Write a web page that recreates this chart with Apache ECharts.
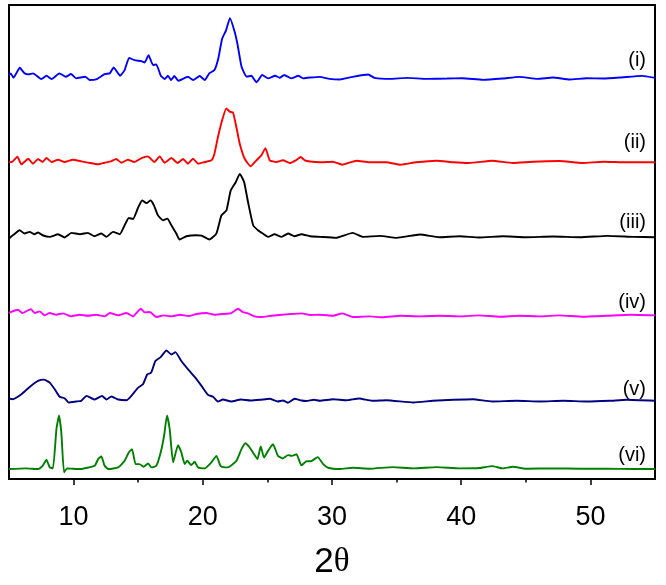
<!DOCTYPE html>
<html>
<head>
<meta charset="utf-8">
<script src="https://cdn.jsdelivr.net/npm/echarts@6/dist/echarts.min.js"></script>
<style>
  html, body { margin: 0; padding: 0; background: #fff; }
  #chart { width: 666px; height: 585px; }
</style>
</head>
<body>
<div id="chart"></div>
<script type="text/javascript">
  // 2theta tick values
  var majorTicks = [10, 20, 30, 40, 50];
  var minorTicks = [15, 25, 35, 45];
  var traceNames = ['(i)', '(ii)', '(iii)', '(iv)', '(v)', '(vi)'];
  var traceColors = ['#0000ff', '#ff0000', '#000000', '#ff00ff', '#000080', '#008000'];
  // vertical offset of each pattern (stacked plot)
  var traceOffsets = [404.5, 319, 245, 165, 79, 10];

  // [2theta, intensity above baseline]
  var trace1 = [
    [5.0, 2], [5.13, 3.7], [5.35, -0.7], [5.83, 9.3], [6.2, 3.7], [6.5, 2.7], [6.86, 3.7], [7.5, -2],
    [7.9, 1.3], [8.3, -2], [8.9, 3.7], [9.4, 0.3], [9.8, 3], [10.2, -1.3], [10.9, 0.3], [11.25, -3],
    [11.8, -2], [12.4, 3], [12.8, 3.7], [13.1, 9.7], [13.6, 1.3], [13.95, 7], [14.3, 19.3], [14.7, 17],
    [15.25, 16], [15.5, 14.7], [15.8, 22], [16.15, 12], [16.4, 12.7], [16.75, 1.3], [17.05, -2], [17.3, 1.3],
    [17.55, -3], [17.8, 1], [18.1, -3.7], [18.85, 0.3], [19.25, -3], [19.76, 1], [20.15, -3], [20.5, 3.7],
    [20.9, 7], [21.2, 18.7], [21.5, 38.7], [21.8, 47], [22.1, 59.3], [22.47, 45.3], [22.7, 32], [23.0, 10.3],
    [23.4, 0.3], [23.76, 1.3], [24.15, -5.3], [24.6, 2], [25.05, -1.3], [25.6, 1.3], [25.95, -0.7], [26.3, 2],
    [26.85, -1.3], [27.4, 1.3], [27.75, -1.3], [28.3, -0.5], [29.05, 0.2], [29.8, -1.8], [30.6, -2.5], [31.6, 0.2],
    [32.8, 2.5], [33.3, -0.8], [34.5, -1.8], [35.8, -0.8], [37.3, -1.8], [38.9, -1.5], [40.1, -1.2], [41.7, -2.8],
    [43.2, -1.5], [44.5, 0.2], [45.9, -1.8], [47.1, -0.5], [48.4, -2.5], [49.7, -1.2], [51.0, -1.5], [52.3, -0.5],
    [54.0, 1.2], [55.0, -0.8]
  ];
  var trace2 = [
    [5.0, 0], [5.2, 0], [5.65, 5.3], [5.95, -2.3], [6.5, 3.3], [6.85, -1.7], [7.25, 3], [7.6, 0],
    [7.9, 4], [8.3, 0], [8.8, 2.3], [9.3, 0], [9.95, 2.3], [10.6, 0.7], [11.25, -1], [11.9, -2.3],
    [12.4, -0.7], [12.9, 0.7], [13.3, 3], [13.7, -0.7], [14.2, 2.3], [14.7, 0], [15.25, 4], [15.75, 5.7],
    [16.25, 0], [16.66, 5.7], [17.05, -0.7], [17.57, 4], [18.05, -1], [18.47, 3], [18.85, -1.7], [19.24, 3.3],
    [19.65, -1.7], [20.15, 0], [20.67, 1.7], [20.9, 8.3], [21.17, 25], [21.49, 41.7], [21.82, 54], [22.08, 50.7],
    [22.34, 49.7], [22.6, 35], [22.86, 18.3], [23.24, 3.3], [23.7, -4.3], [24.15, 1.7], [24.53, 6.7], [24.85, 14],
    [25.18, 1.7], [25.7, 0], [26.2, 1.7], [26.73, -1], [27.2, 1.7], [27.58, 5], [27.9, 1.7], [28.3, 0.5],
    [29.05, -0.3], [30.05, 0.3], [30.8, -2.7], [31.9, 1.3], [32.9, -0.3], [34.2, -0.3], [35.3, -2.7], [36.5, -0.3],
    [38.1, 1.3], [39.4, -0.3], [40.6, -1], [42.4, 1.3], [44.0, -1], [45.5, 0.3], [47.6, 1], [49.4, -1],
    [51.0, 0.3], [52.8, -0.3], [55.0, -0.3]
  ];
  var trace3 = [
    [5.0, -3], [5.3, 0.3], [5.83, 5.3], [6.2, 2], [6.6, 3.7], [6.95, 1.3], [7.25, 3], [7.6, 0.3],
    [8.15, -1.3], [8.8, 1.3], [9.3, -2], [9.83, 2.7], [10.5, 1.3], [11.1, 2.7], [11.6, -0.7], [12.15, 2],
    [12.54, -1.3], [13.05, 3.7], [13.57, 1.3], [13.95, 10.3], [14.27, 17.7], [14.6, 16.7], [15.0, 28.3], [15.3, 35.3],
    [15.64, 32.7], [15.95, 35.3], [16.22, 30.3], [16.53, 20.3], [16.92, 15.3], [17.26, 17], [17.57, 10.3], [17.95, 2],
    [18.2, -4], [18.73, -0.7], [19.5, 0.3], [19.9, 0], [20.5, -4], [21.05, 2], [21.44, 20.3], [21.83, 25.3],
    [22.16, 45.3], [22.55, 53.7], [22.86, 62], [23.2, 53.7], [23.5, 33.7], [23.9, 10.3], [24.27, 5.3], [24.65, 2],
    [25.05, -1.3], [25.55, 1.3], [26.1, -1.3], [26.6, 2], [27.1, -0.7], [27.63, 1.3], [28.3, -0.7], [29.05, -1.3],
    [30.3, -2.3], [31.6, 2.7], [32.4, -1.3], [33.7, -0.3], [35.0, -2.3], [36.8, 1], [38.3, -1.7], [39.9, -0.7],
    [41.4, -2], [43.2, -0.7], [45.0, -1.7], [47.1, -1], [49.2, -1.7], [51.3, -0.3], [53.3, -1.3], [55.0, -1.7]
  ];
  var trace4 = [
    [5.0, 2], [5.13, 3], [5.7, 5.3], [6.05, 2], [6.68, 6], [7.0, 2], [7.38, 3.7], [7.75, -0.3],
    [8.15, 2], [8.65, 0.3], [9.18, 1.7], [9.8, -1.3], [10.45, 0.3], [11.1, -0.7], [11.76, 0.3], [12.4, -1.3],
    [12.8, 2], [13.45, -0.3], [14.09, 2], [14.6, -1.3], [15.2, 6.3], [15.5, 2.7], [15.9, 3], [16.4, -2],
    [16.95, -0.3], [17.6, -1.3], [18.25, 0.3], [18.9, -1], [19.5, 1], [20.28, 2], [20.9, 0.3], [21.55, 1],
    [22.2, 2], [22.73, 6.3], [23.1, 3], [23.5, 1.7], [24.0, -1.3], [24.5, -2], [25.3, -0.7], [26.1, 0.3],
    [26.85, 1], [27.63, 1.7], [28.3, 0], [29.05, 0.3], [30.1, -0.7], [30.8, 1.7], [31.6, -2], [32.9, -1.3],
    [33.9, -2.3], [35.3, -0.7], [36.8, -1.3], [38.3, -0.7], [39.9, -1.3], [41.4, -0.3], [43.0, -1.7], [44.5, -0.7],
    [46.1, -1.3], [47.6, -0.3], [49.4, -1.7], [51.3, -0.7], [53.1, 0.3], [55.0, -0.3]
  ];
  var trace5 = [
    [5.0, 2], [5.3, 1.3], [5.96, 6.3], [6.6, 13.7], [7.25, 19.7], [7.7, 21], [8.15, 18], [8.54, 11.3],
    [8.92, 3.7], [9.3, 2.3], [9.62, -2], [10.2, -1], [10.6, -0.3], [11.0, 4.7], [11.63, 1], [12.2, 4.7],
    [12.55, 1], [12.92, 4], [13.45, 1], [14.1, 0.3], [14.47, 4.7], [15.0, 13], [15.37, 16.3], [15.7, 26.3],
    [16.0, 28], [16.33, 39.7], [16.74, 43.7], [17.18, 50.3], [17.57, 46.3], [17.88, 48.7], [18.34, 39.7], [18.86, 31.3],
    [19.37, 23.7], [19.9, 14.7], [20.4, 5.7], [20.8, 3.7], [21.17, -1], [21.56, 1], [22.2, -1], [22.95, 1],
    [23.7, 0], [24.45, 0.7], [25.17, 1.7], [25.8, -1], [26.2, 0], [26.6, -2.3], [27.1, 1.7], [27.63, 0],
    [28.0, -0.5], [28.6, 0.7], [29.05, -0.3], [30.1, 1.3], [31.1, 0.3], [32.1, 2], [33.1, -0.3], [34.2, 0.3],
    [36.3, -2], [37.8, -0.3], [39.4, 0.7], [40.9, 1.3], [42.4, -1], [44.3, -0.3], [46.1, -1], [47.9, -0.3],
    [49.7, -1], [51.5, -0.3], [52.8, 0.7], [55.0, -0.3]
  ];
  var trace6 = [
    [5.0, 0], [6.3, 0.7], [7.25, 0], [7.6, 3.3], [7.9, 9.3], [8.15, 1.7], [8.4, 0.7], [8.67, 40],
    [8.87, 54], [9.05, 36.7], [9.26, -3.3], [9.5, 0.7], [10.5, 0], [11.63, 3.3], [11.9, 10], [12.15, 12.7],
    [12.4, 3.3], [12.7, 0], [13.45, 1.7], [13.95, 8.3], [14.27, 16.7], [14.52, 20], [14.8, 5], [15.1, 5],
    [15.42, 2.3], [15.76, 5.7], [16.02, 1.7], [16.4, 3.3], [16.74, 16.7], [17.0, 33.3], [17.23, 54], [17.44, 40],
    [17.7, 6.7], [18.08, 24], [18.34, 16.7], [18.6, 5], [18.8, 8.3], [19.1, 4], [19.37, 7.3], [19.63, 1.7],
    [20.15, 0.7], [20.66, 6.7], [21.05, 13.3], [21.4, 2.7], [21.95, 1.7], [22.6, 8.3], [22.99, 20], [23.3, 26],
    [23.63, 21.7], [23.96, 15], [24.23, 10], [24.48, 22.7], [24.74, 11.7], [25.05, 18.3], [25.43, 25], [25.82, 13.3],
    [26.2, 10.7], [26.6, 14], [26.9, 13.3], [27.25, 15], [27.63, 3.7], [28.0, 7.7], [28.4, 8], [28.9, 12],
    [29.3, 5.3], [29.7, 1.3], [30.6, 0], [31.6, 1.3], [32.9, 0.3], [34.7, 2], [36.3, 0.7], [38.1, 2],
    [39.9, 0.7], [41.4, 1], [42.4, 3], [43.2, 0.7], [44.0, 2.3], [45.0, 0.3], [47.1, 0.7], [49.2, 0.3],
    [51.3, 0.3], [53.3, 0], [55.0, 0]
  ];
  var traces = [trace1, trace2, trace3, trace4, trace5, trace6];

  // right-hand label centres (pixel y) for each pattern
  var labelY = [62, 144, 224, 304, 391, 457];

  var series = [];
  for (var i = 0; i < traces.length; i++) {
    var off = traceOffsets[i];
    series.push({
      type: 'line',
      name: traceNames[i],
      xAxisIndex: 0,
      yAxisIndex: 0,
      showSymbol: false,
      smooth: 0.15,
      silent: true,
      lineStyle: { color: traceColors[i], width: 1.9 },
      data: traces[i].map(function (p) { return [p[0], p[1] + off]; })
    });
  }

  var graphics = [];
  for (var j = 0; j < traceNames.length; j++) {
    graphics.push({
      type: 'text',
      right: 20,
      top: labelY[j] - 12,
      style: {
        text: traceNames[j],
        fill: '#000',
        font: '20px "Liberation Sans", Arial, sans-serif'
      }
    });
  }

  var myChart = echarts.init(document.getElementById('chart'), null, { renderer: 'canvas' });
  var option = {
    animation: false,
    backgroundColor: '#fff',
    grid: {
      left: 9, right: 11, top: 5, bottom: 103,
      show: true, borderColor: '#000', borderWidth: 2
    },
    xAxis: [
      {
        type: 'value', min: 5, max: 55,
        position: 'bottom',
        splitLine: { show: false },
        axisLine: { show: true, lineStyle: { color: '#000', width: 2 } },
        axisTick: { show: true, customValues: majorTicks, length: 6, lineStyle: { color: '#000', width: 1.5 } },
        axisLabel: {
          show: true, customValues: majorTicks, margin: 25,
          color: '#000', fontSize: 27,
          fontFamily: '"Liberation Sans", Arial, sans-serif'
        },
        name: '{a|2}{b|θ}',
        nameLocation: 'middle',
        nameGap: 66,
        nameTextStyle: {
          rich: {
            a: { fontSize: 35, color: '#000', fontFamily: '"Liberation Sans", Arial, sans-serif' },
            b: { fontSize: 33, color: '#000', fontFamily: '"Liberation Serif", "Times New Roman", serif' }
          }
        }
      },
      {
        type: 'value', min: 5, max: 55,
        position: 'bottom',
        splitLine: { show: false },
        axisLine: { show: false },
        axisTick: { show: true, customValues: minorTicks, length: 3.5, lineStyle: { color: '#000', width: 1.5 } },
        axisLabel: { show: false }
      }
    ],
    yAxis: {
      type: 'value', min: 0, max: 477,
      show: false,
      splitLine: { show: false }
    },
    graphic: graphics,
    series: series
  };
  myChart.setOption(option);
</script>
</body>
</html>
